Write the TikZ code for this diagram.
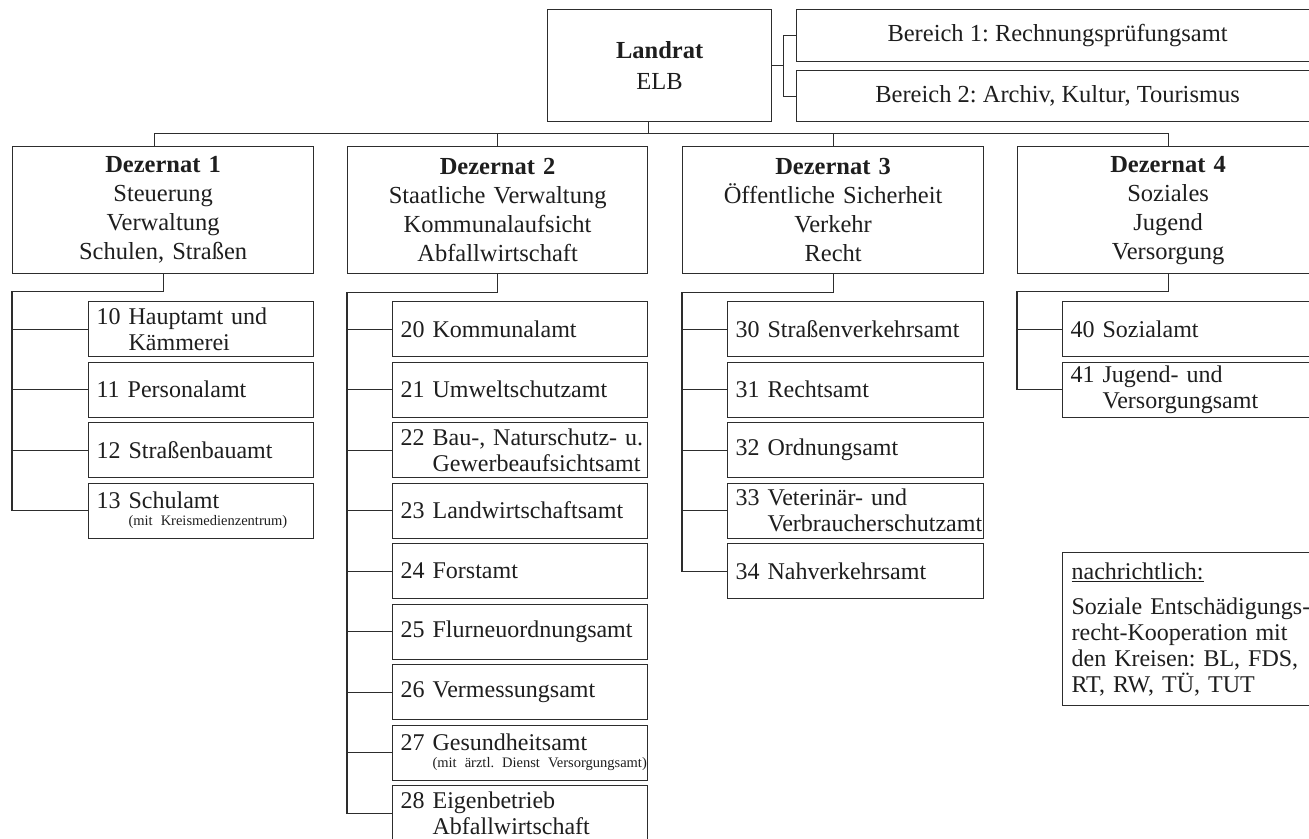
\documentclass[tikz,border=0pt]{standalone}
\usepackage{fontspec}
\setmainfont{Liberation Serif}
\usetikzlibrary{calc}
\definecolor{lc}{RGB}{45,45,45}
\definecolor{tc}{RGB}{30,30,30}
\newcommand{\smalltxt}[1]{\mbox{\fontsize{14.5}{17}\selectfont #1}}
\begin{document}
\frenchspacing
\hyphenpenalty=10000
\exhyphenpenalty=10000
\hbadness=10000
\hfuzz=50pt
\begin{tikzpicture}[x=1pt,y=-1pt,
  box/.style={draw=lc, line width=1.2pt, anchor=north west, inner sep=0pt, text=tc},
  dez/.style={box, minimum width=301pt, minimum height=127pt, text width=295pt, align=center, font=\fontsize{24.5}{29}\selectfont},
  sub/.style={box, minimum height=55pt, align=left, inner xsep=8pt, text width=#1, font=\fontsize{24}{26}\selectfont},
  conn/.style={draw=lc, line width=1.2pt}
]
\useasboundingbox (0,0) rectangle (1309,838);
\fill[white] (0,0) rectangle (1309,838);
\clip (0,0) rectangle (1309,838);

% top
\node[box, minimum width=224pt, minimum height=112pt, align=center, font=\fontsize{24.5}{31}\selectfont] (L) at (547,9) {\textbf{Landrat}\\ELB};
\node[box, minimum width=522pt, minimum height=52pt, font=\fontsize{24.5}{26}\selectfont] (B1) at (796,9) {Bereich 1: Rechnungsprüfungsamt};
\node[box, minimum width=522pt, minimum height=51pt, font=\fontsize{24.5}{26}\selectfont] (B2) at (796,70) {Bereich 2: Archiv, Kultur, Tourismus};
\coordinate (br) at ([xshift=11pt]L.east);
\draw[conn] (L.east) -- (br);
\draw[conn] (B1.west) -| (br) |- (B2.west);

% Dezernate
\node[dez] (D1) at (12,146) {\textbf{Dezernat 1}\\Steuerung\\Verwaltung\\Schulen, Straßen};
\node[dez, minimum width=300pt] (D2) at (347,146) {\textbf{Dezernat 2}\\Staatliche Verwaltung\\Kommunalaufsicht\\Abfallwirtschaft};
\node[dez] (D3) at (682,146) {\textbf{Dezernat 3}\\Öffentliche Sicherheit\\Verkehr\\Recht};
\node[dez] (D4) at (1017,146) {\textbf{Dezernat 4}\\Soziales\\Jugend\\Versorgung};

% bus
\draw[conn] ([xshift=-11pt]L.south) -- ++(0,11) coordinate (bm);
\draw[conn] ([xshift=-8.5pt]D1.north) |- (bm -| D4.north) -- (D4.north);
\draw[conn] (D2.north) -- (D2.north |- bm);
\draw[conn] (D3.north) -- (D3.north |- bm);

% Dezernat 1 column
\node[sub=209pt] (s10) at (88,301) {10~Hauptamt~und\\\hphantom{10 }Kämmerei};
\node[sub=209pt] (s11) at (88,361.5) {11 Personalamt};
\node[sub=209pt] (s12) at (88,422) {12 Straßenbauamt};
\node[sub=209pt] (s13) at (88,482.5) {13 Schulamt\\[-9pt]\hphantom{13 }\smalltxt{(mit Kreismedienzentrum)}};

% Dezernat 2 column
\node[sub=239pt] (s20) at (392,301) {20 Kommunalamt};
\node[sub=239pt] (s21) at (392,361.5) {21 Umweltschutzamt};
\node[sub=239pt] (s22) at (392,422) {22~Bau-,~Naturschutz-~u.\\\hphantom{22 }Gewerbeaufsichtsamt};
\node[sub=239pt] (s23) at (392,482.5) {23 Landwirtschaftsamt};
\node[sub=239pt] (s24) at (392,543) {24 Forstamt};
\node[sub=239pt] (s25) at (392,603.5) {25 Flurneuordnungsamt};
\node[sub=239pt] (s26) at (392,664) {26 Vermessungsamt};
\node[sub=239pt] (s27) at (392,724.5) {27 Gesundheitsamt\\[-9pt]\hphantom{27 }\smalltxt{(mit ärztl. Dienst Versorgungsamt)}};
\node[sub=239pt] (s28) at (392,785) {28 Eigenbetrieb\\\hphantom{28 }Abfallwirtschaft};

% Dezernat 3 column
\node[sub=240pt] (s30) at (727,301) {30 Straßenverkehrsamt};
\node[sub=240pt] (s31) at (727,361.5) {31 Rechtsamt};
\node[sub=240pt] (s32) at (727,422) {32 Ordnungsamt};
\node[sub=240pt] (s33) at (727,482.5) {33~Veterinär-~und\\\hphantom{33 }Verbraucherschutzamt};
\node[sub=240pt] (s34) at (727,543) {34 Nahverkehrsamt};

% Dezernat 4 column
\node[sub=240pt] (s40) at (1062,301) {40 Sozialamt};
\node[sub=240pt] (s41) at (1062,361.5) {41~Jugend-~und\\\hphantom{41 }Versorgungsamt};

% nachrichtlich
\node[box, minimum height=153pt, align=left, inner xsep=9pt, text width=250pt, font=\fontsize{24}{26}\selectfont] (N) at (1062,552)
 {\underline{nachrichtlich:}\\[9pt]Soziale~Entschädigungs-\\recht-Kooperation~mit\\den~Kreisen:~BL,~FDS,\\RT, RW, TÜ, TUT};

% column connectors
\path (D1.south) ++(0,17) coordinate (j1);
\draw[conn] (D1.south) -- (j1) -| (D1.west |- s13.west) -- (s13.west);
\foreach \s in {s10,s11,s12} \draw[conn] (D1.west |- \s.west) -- (\s.west);

\path (D2.south) ++(0,18) coordinate (j2);
\draw[conn] (D2.south) -- (j2) -| (D2.west |- s28.west) -- (s28.west);
\foreach \s in {s20,s21,s22,s23,s24,s25,s26,s27} \draw[conn] (D2.west |- \s.west) -- (\s.west);

\path (D3.south) ++(0,18) coordinate (j3);
\draw[conn] (D3.south) -- (j3) -| (D3.west |- s34.west) -- (s34.west);
\foreach \s in {s30,s31,s32,s33} \draw[conn] (D3.west |- \s.west) -- (\s.west);

\path (D4.south) ++(0,17) coordinate (j4);
\draw[conn] (D4.south) -- (j4) -| (D4.west |- s41.west) -- (s41.west);
\draw[conn] (D4.west |- s40.west) -- (s40.west);
\end{tikzpicture}
\end{document}
